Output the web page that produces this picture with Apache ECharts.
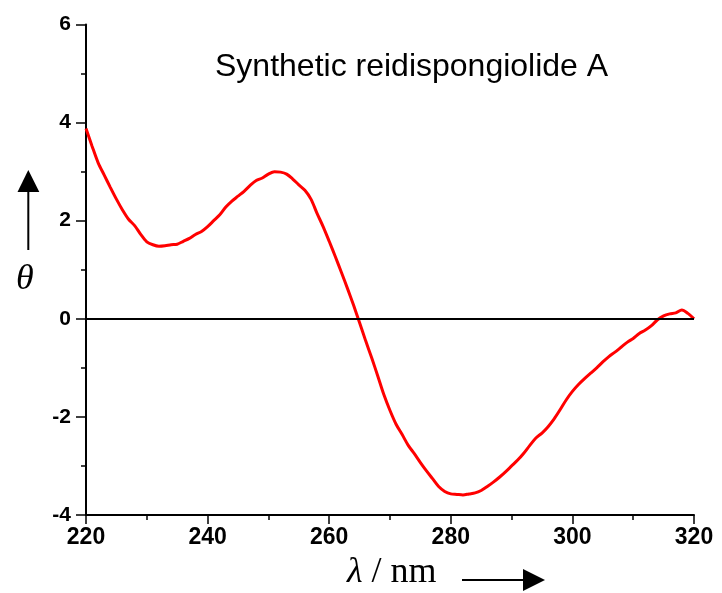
<!DOCTYPE html>
<html>
<head>
<meta charset="utf-8">
<script src="https://cdn.jsdelivr.net/npm/echarts@6/dist/echarts.min.js"></script>
<style>html,body{margin:0;padding:0;background:#fff;}#c{width:722px;height:593px;}</style>
</head>
<body>
<div id="c"></div>
<script>
var wavelengths = [220,221,222,223,224,225,226,227,228,229,230,231,232,233,234,235,236,237,238,239,240,241,242,243,244,245,246,247,248,249,250,251,252,253,254,255,256,257,258,259,260,261,262,263,264,265,266,267,268,269,270,271,272,273,274,275,276,277,278,279,280,281,282,283,284,285,286,287,288,289,290,291,292,293,294,295,296,297,298,299,300,301,302,303,304,305,306,307,308,309,310,311,312,313,314,315,316,317,318,319,320];
var theta = [3.88,3.52,3.18,2.93,2.68,2.44,2.22,2.03,1.90,1.72,1.57,1.51,1.48,1.49,1.51,1.52,1.58,1.64,1.72,1.78,1.88,2.00,2.12,2.28,2.40,2.50,2.60,2.72,2.82,2.87,2.95,3.00,2.99,2.95,2.85,2.73,2.62,2.44,2.15,1.88,1.58,1.27,0.95,0.62,0.28,-0.08,-0.45,-0.80,-1.17,-1.55,-1.87,-2.15,-2.36,-2.58,-2.75,-2.93,-3.10,-3.26,-3.42,-3.52,-3.57,-3.58,-3.59,-3.57,-3.55,-3.50,-3.42,-3.33,-3.23,-3.12,-3.00,-2.88,-2.74,-2.58,-2.43,-2.33,-2.20,-2.04,-1.85,-1.65,-1.48,-1.34,-1.22,-1.11,-1.00,-0.88,-0.77,-0.68,-0.58,-0.48,-0.40,-0.30,-0.23,-0.14,-0.02,0.06,0.10,0.12,0.18,0.11,0.00];
var xTicks = {min:220, max:320, interval:20};
var yTicks = {min:-4, max:6, interval:2};
var titleText = 'Synthetic reidispongiolide A';

var sans = "'Liberation Sans', Arial, sans-serif";
var serif = "'Liberation Serif', 'Times New Roman', serif";
var data = wavelengths.map(function(w,i){return [w, theta[i]];});

var chart = echarts.init(document.getElementById('c'));
chart.setOption({
  animation:false,
  backgroundColor:'#fff',
  grid:{left:86, right:28, top:24.5, bottom:78},
  xAxis:{
    type:'value', min:xTicks.min, max:xTicks.max, interval:xTicks.interval,
    axisLine:{show:true, onZero:false, lineStyle:{color:'#000', width:2}},
    axisTick:{show:true, inside:false, length:9, lineStyle:{color:'#000', width:1.5}},
    minorTick:{show:true, splitNumber:2, length:5, lineStyle:{color:'#000', width:1.5}},
    axisLabel:{color:'#000', fontFamily:sans, fontWeight:'bold', fontSize:23, margin:11},
    splitLine:{show:false}
  },
  yAxis:{
    type:'value', min:yTicks.min, max:yTicks.max, interval:yTicks.interval,
    axisLine:{show:true, lineStyle:{color:'#000', width:2}},
    axisTick:{show:true, inside:false, length:10, lineStyle:{color:'#000', width:1.5}},
    minorTick:{show:true, splitNumber:2, length:5, lineStyle:{color:'#000', width:1.5}},
    axisLabel:{color:'#000', fontFamily:sans, fontWeight:'bold', fontSize:21, margin:15},
    splitLine:{show:false}
  },
  series:[{
    type:'line', data:data, symbol:'none', smooth:0.3,
    lineStyle:{color:'#ff0000', width:3},
    markLine:{silent:true, symbol:'none', label:{show:false},
      lineStyle:{color:'#000', width:2, type:'solid'}, data:[{yAxis:0}]}
  }],
  graphic:[
    {type:'text', left:215, top:51, style:{text:titleText, font:'32px '+sans, fill:'#000'}},
    {type:'line', shape:{x1:28.3, y1:191, x2:28.3, y2:250}, style:{stroke:'#000', lineWidth:2}},
    {type:'polygon', shape:{points:[[28.3,170],[17.5,192],[39.3,192]]}, style:{fill:'#000'}},
    {type:'text', left:16, top:262, style:{text:'θ', font:'italic 36px '+serif, fill:'#000'}},
    {type:'text', left:347, top:555, style:{
      text:'{a|λ}{b| / nm}', fill:'#000',
      rich:{a:{font:'italic 36px '+serif, fill:'#000'}, b:{font:'36px '+serif, fill:'#000'}}}},
    {type:'line', shape:{x1:462, y1:580, x2:524, y2:580}, style:{stroke:'#000', lineWidth:2}},
    {type:'polygon', shape:{points:[[545,580],[523,569],[523,591]]}, style:{fill:'#000'}}
  ]
});
</script>
</body>
</html>
